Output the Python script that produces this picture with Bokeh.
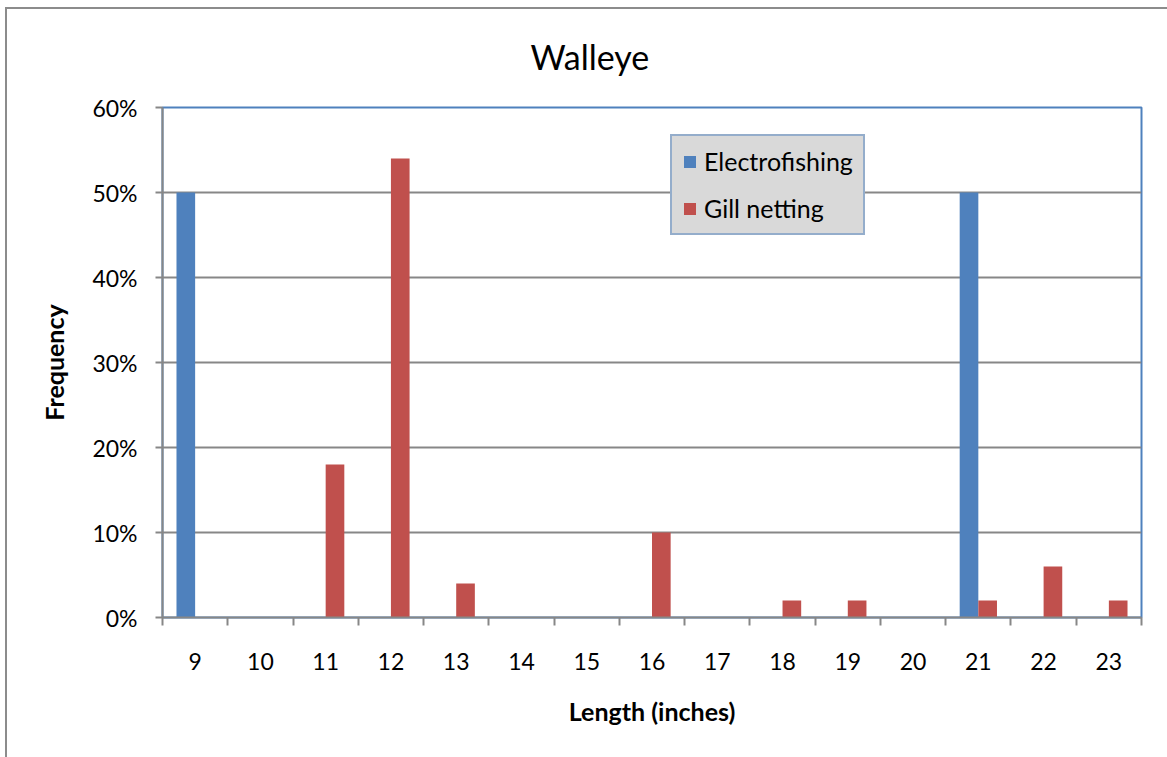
import numpy as np
from bokeh.plotting import figure
from bokeh.models import (ColumnDataSource, Range1d, FixedTicker, NumeralTickFormatter,
                          Legend, LegendItem)
from bokeh.embed import file_html
from bokeh.resources import INLINE

# Walleye length-frequency data
lengths = ["9", "10", "11", "12", "13", "14", "15", "16", "17", "18", "19", "20", "21", "22", "23"]
electrofishing = [0.50, 0, 0, 0, 0, 0, 0, 0, 0, 0, 0, 0, 0.50, 0, 0]
gill_netting = [0, 0, 0.18, 0.54, 0.04, 0, 0, 0.10, 0, 0.02, 0.02, 0, 0.02, 0.06, 0.02]
y_ticks = [0, 0.1, 0.2, 0.3, 0.4, 0.5, 0.6]

FONT = "Lato"
BLUE = "#4F81BD"
RED = "#C0504D"
GRAY = "#878787"
EDGE = "#8C8C8C"

n = len(lengths)
centers = [2 * i + 1 for i in range(n)]          # each category spans 2 units
bar_w = 2 / 3.5                                  # two bars + 150% gap
src = ColumnDataSource(dict(
    x_e=[c - bar_w / 2 for c in centers],
    x_g=[c + bar_w / 2 for c in centers],
    e=electrofishing,
    g=gill_netting,
))

p = figure(width=1167, height=757, output_backend="svg", toolbar_location=None,
           x_range=Range1d(0, 2 * n), y_range=Range1d(0, 0.6),
           min_border_left=162, min_border_right=26, min_border_top=107, min_border_bottom=140,
           title="Walleye")
p.background_fill_color = "white"
p.border_fill_color = None
p.outline_line_color = BLUE
p.outline_line_width = 2

# chart-area border (left and top edges) painted behind the transparent canvas
p.styles = {
    "background-color": "white",
    "background-image": f"linear-gradient({EDGE}, {EDGE}), linear-gradient({EDGE}, {EDGE})",
    "background-size": "2px 100%, 100% 2px",
    "background-position": "5px 7px, 5px 7px",
    "background-repeat": "no-repeat",
}

p.title.align = "left"
p.title.offset = 368
p.title.text_font = FONT
p.title.text_font_size = "34px"
p.title.text_font_style = "normal"
p.title.text_color = "black"
p.title.standoff = 61

r_e = p.vbar(x="x_e", top="e", width=bar_w, source=src, fill_color=BLUE, line_color=None)
r_g = p.vbar(x="x_g", top="g", width=bar_w, source=src, fill_color=RED, line_color=None)

# y axis
p.yaxis.ticker = FixedTicker(ticks=y_ticks)
p.yaxis.formatter = NumeralTickFormatter(format="0%")
p.yaxis.axis_line_color = GRAY
p.yaxis.axis_line_width = 2
p.yaxis.major_tick_line_color = GRAY
p.yaxis.major_tick_line_width = 2
p.yaxis.major_tick_out = 7
p.yaxis.major_tick_in = 0
p.yaxis.minor_tick_line_color = None
p.yaxis.major_label_standoff = 18
p.yaxis.major_label_text_font = FONT
p.yaxis.major_label_text_font_size = "23px"
p.yaxis.major_label_text_color = "black"
p.yaxis.axis_label = "Frequency"
p.yaxis.axis_label_text_font = FONT
p.yaxis.axis_label_text_font_style = "bold"
p.yaxis.axis_label_text_font_size = "25px"
p.yaxis.axis_label_text_color = "black"
p.yaxis.axis_label_standoff = 20

# x axis: labels at category centres, tick marks at category boundaries
p.xaxis.ticker = FixedTicker(ticks=centers, minor_ticks=list(range(0, 2 * n + 1, 2)))
p.xaxis.major_label_overrides = {c: lab for c, lab in zip(centers, lengths)}
p.xaxis.axis_line_color = GRAY
p.xaxis.axis_line_width = 2
p.xaxis.major_tick_line_color = None
p.xaxis.major_tick_out = 0
p.xaxis.major_tick_in = 0
p.xaxis.minor_tick_line_color = GRAY
p.xaxis.minor_tick_line_width = 2
p.xaxis.minor_tick_out = 8
p.xaxis.minor_tick_in = 0
p.xaxis.major_label_standoff = 27
p.xaxis.major_label_text_font = FONT
p.xaxis.major_label_text_font_size = "23px"
p.xaxis.major_label_text_color = "black"
p.xaxis.axis_label = "Length (inches)"
p.xaxis.axis_label_text_font = FONT
p.xaxis.axis_label_text_font_style = "bold"
p.xaxis.axis_label_text_font_size = "25px"
p.xaxis.axis_label_text_color = "black"
p.xaxis.axis_label_standoff = 23

p.xgrid.visible = False
p.ygrid.ticker = FixedTicker(ticks=y_ticks)
p.ygrid.grid_line_color = GRAY
p.ygrid.grid_line_width = 2

legend = Legend(items=[LegendItem(label="Electrofishing", renderers=[r_e]),
                       LegendItem(label="Gill netting", renderers=[r_g])],
                location=(508, 382))
legend.margin = 0
legend.padding = 10
legend.spacing = 17
legend.glyph_width = 15
legend.glyph_height = 15
legend.label_height = 20
legend.label_standoff = 7
legend.label_text_font = FONT
legend.label_text_font_size = "25px"
legend.label_text_color = "black"
legend.background_fill_color = "#D9D9D9"
legend.background_fill_alpha = 1
legend.border_line_color = BLUE
legend.border_line_width = 2
p.add_layout(legend, "center")

open("out.html", "w").write(file_html(p, INLINE))
